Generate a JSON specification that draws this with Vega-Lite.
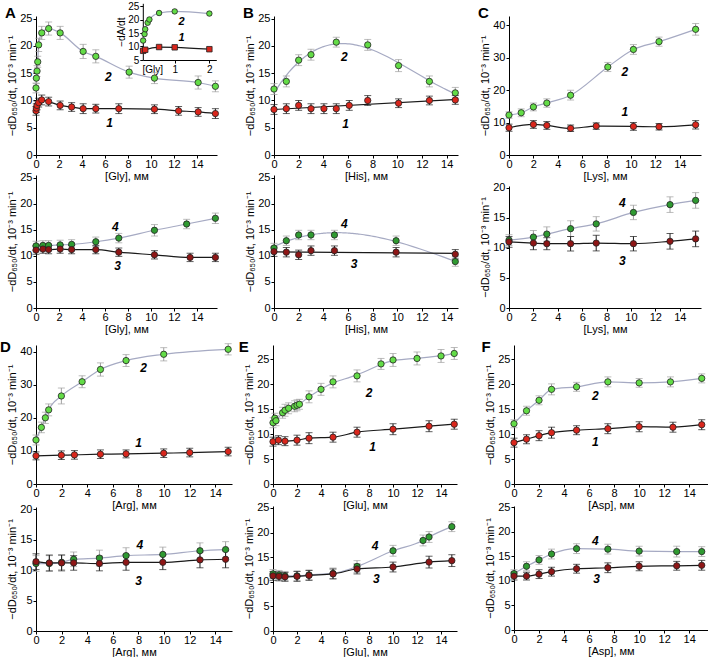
{
"$schema":"https://vega.github.io/schema/vega-lite/v6.json",
"background":"white",
"padding":{"left":0,"top":1,"right":0,"bottom":0},
"config":{"view":{"stroke":null},"font":"Liberation Sans",
"axis":{"grid":false,"domainColor":"#000","tickColor":"#000","labelColor":"#000","titleColor":"#000","labelFont":"Liberation Sans","titleFont":"Liberation Sans","labelFontSize":11,"titleFontSize":11,"titleFontWeight":"normal","tickSize":3,"labelPadding":1,"titlePadding":2,"labelFlush":false,"labelOverlap":false},
"axisX":{"titlePadding":1,"labelPadding":0},
"title":{"font":"Liberation Sans","fontSize":15,"fontWeight":"bold","color":"#000","orient":"left","anchor":"end","angle":0,"align":"right","baseline":"top","frame":"group"}},
"data":{"values":[
{"p":"Au","s":2,"x":0,"y":12.3,"e":0.9},{"p":"Au","s":2,"x":0.03,"y":14.1,"e":1.0},{"p":"Au","s":2,"x":0.09,"y":15.4,"e":1.0},{"p":"Au","s":2,"x":0.15,"y":17.1,"e":1.0},{"p":"Au","s":2,"x":0.23,"y":20.2,"e":1.2},{"p":"Au","s":2,"x":0.5,"y":22.4,"e":1.2},{"p":"Au","s":2,"x":1.1,"y":23.2,"e":1.2},{"p":"Au","s":2,"x":2.1,"y":22.4,"e":1.2},{"p":"Au","s":2,"x":4.1,"y":19.0,"e":1.3},{"p":"Au","s":2,"x":5.2,"y":18.1,"e":1.2},{"p":"Au","s":2,"x":8.1,"y":15.2,"e":1.1},{"p":"Au","s":2,"x":10.3,"y":14.1,"e":1.0},{"p":"Au","s":2,"x":14.1,"y":13.3,"e":1.2},{"p":"Au","s":2,"x":15.6,"y":12.6,"e":1.0},
{"p":"Au","s":1,"x":0,"y":8.1,"e":0.8},{"p":"Au","s":1,"x":0.03,"y":8.6,"e":0.8},{"p":"Au","s":1,"x":0.09,"y":9.1,"e":0.8},{"p":"Au","s":1,"x":0.23,"y":9.6,"e":0.8},{"p":"Au","s":1,"x":0.5,"y":10.1,"e":0.9},{"p":"Au","s":1,"x":1.1,"y":9.8,"e":0.8},{"p":"Au","s":1,"x":2.1,"y":9.1,"e":0.8},{"p":"Au","s":1,"x":3.1,"y":8.8,"e":0.8},{"p":"Au","s":1,"x":4.1,"y":8.5,"e":0.9},{"p":"Au","s":1,"x":5.2,"y":8.5,"e":0.8},{"p":"Au","s":1,"x":7.2,"y":8.5,"e":0.9},{"p":"Au","s":1,"x":10.3,"y":8.4,"e":0.8},{"p":"Au","s":1,"x":12.4,"y":8.1,"e":0.8},{"p":"Au","s":1,"x":14.1,"y":7.9,"e":0.8},{"p":"Au","s":1,"x":15.6,"y":7.6,"e":0.9},
{"p":"Au","t":"2","x":6.3,"y":14.4},{"p":"Au","t":"1","x":6.4,"y":5.8},
{"p":"Ai","s":2,"x":0.09,"y":12.2,"e":0.7},{"p":"Ai","s":2,"x":0.13,"y":14.6,"e":0.7},{"p":"Ai","s":2,"x":0.15,"y":16.4,"e":0.7},{"p":"Ai","s":2,"x":0.22,"y":18.8,"e":0.7},{"p":"Ai","s":2,"x":0.27,"y":20.0,"e":0.7},{"p":"Ai","s":2,"x":0.55,"y":22.4,"e":0.7},{"p":"Ai","s":2,"x":1.0,"y":23.0,"e":0.7},{"p":"Ai","s":2,"x":2.0,"y":22.2,"e":0.7},
{"p":"Ai","s":1,"x":0.09,"y":8.4,"e":0.6},{"p":"Ai","s":1,"x":0.15,"y":8.8,"e":0.6},{"p":"Ai","s":1,"x":0.55,"y":9.8,"e":0.6},{"p":"Ai","s":1,"x":1.0,"y":9.7,"e":0.6},{"p":"Ai","s":1,"x":2.0,"y":9.0,"e":0.6},
{"p":"Ai","t":"2","x":1.2,"y":19},{"p":"Ai","t":"1","x":1.2,"y":13},
{"p":"Al","s":4,"x":0,"y":11.9,"e":0.9},{"p":"Al","s":4,"x":0.6,"y":12.0,"e":0.9},{"p":"Al","s":4,"x":1.1,"y":12.0,"e":0.9},{"p":"Al","s":4,"x":2.1,"y":12.1,"e":0.9},{"p":"Al","s":4,"x":3.1,"y":12.2,"e":0.9},{"p":"Al","s":4,"x":5.2,"y":12.7,"e":0.9},{"p":"Al","s":4,"x":7.2,"y":13.4,"e":0.9},{"p":"Al","s":4,"x":10.3,"y":14.9,"e":1.1},{"p":"Al","s":4,"x":13.1,"y":16.1,"e":0.9},{"p":"Al","s":4,"x":15.6,"y":17.2,"e":1.0},
{"p":"Al","s":3,"x":0,"y":11.1,"e":0.8},{"p":"Al","s":3,"x":0.6,"y":11.3,"e":0.8},{"p":"Al","s":3,"x":1.1,"y":11.2,"e":0.8},{"p":"Al","s":3,"x":2.1,"y":11.3,"e":0.8},{"p":"Al","s":3,"x":3.1,"y":11.2,"e":0.8},{"p":"Al","s":3,"x":5.2,"y":11.2,"e":0.8},{"p":"Al","s":3,"x":7.2,"y":10.7,"e":0.8},{"p":"Al","s":3,"x":10.3,"y":10.2,"e":0.8},{"p":"Al","s":3,"x":13.4,"y":9.7,"e":0.8},{"p":"Al","s":3,"x":15.6,"y":9.7,"e":0.8},
{"p":"Al","t":"4","x":6.9,"y":15.5},{"p":"Al","t":"3","x":7.1,"y":8.0},
{"p":"Bu","s":2,"x":0,"y":12.1,"e":1.0},{"p":"Bu","s":2,"x":1,"y":13.5,"e":1.0},{"p":"Bu","s":2,"x":2,"y":17.4,"e":1.0},{"p":"Bu","s":2,"x":3,"y":18.4,"e":1.0},{"p":"Bu","s":2,"x":5.05,"y":20.7,"e":0.9},{"p":"Bu","s":2,"x":7.6,"y":20.2,"e":1.0},{"p":"Bu","s":2,"x":10.1,"y":16.4,"e":1.1},{"p":"Bu","s":2,"x":12.6,"y":13.5,"e":1.0},{"p":"Bu","s":2,"x":14.7,"y":11.4,"e":1.0},
{"p":"Bu","s":1,"x":0,"y":8.35,"e":0.9},{"p":"Bu","s":1,"x":1,"y":8.5,"e":0.9},{"p":"Bu","s":1,"x":2,"y":9.1,"e":0.9},{"p":"Bu","s":1,"x":3,"y":8.5,"e":0.9},{"p":"Bu","s":1,"x":4.05,"y":8.5,"e":0.9},{"p":"Bu","s":1,"x":5.05,"y":8.5,"e":0.9},{"p":"Bu","s":1,"x":6.1,"y":9.1,"e":0.9},{"p":"Bu","s":1,"x":7.6,"y":10.0,"e":0.9},{"p":"Bu","s":1,"x":10.1,"y":9.5,"e":0.8},{"p":"Bu","s":1,"x":12.6,"y":10.0,"e":0.8},{"p":"Bu","s":1,"x":14.7,"y":10.1,"e":0.8},
{"p":"Bu","t":"2","x":5.7,"y":17.9},{"p":"Bu","t":"1","x":5.8,"y":5.7},
{"p":"Bl","s":4,"x":0,"y":11.5,"e":0.9},{"p":"Bl","s":4,"x":1,"y":12.9,"e":0.9},{"p":"Bl","s":4,"x":2,"y":14.0,"e":0.9},{"p":"Bl","s":4,"x":3,"y":14.0,"e":0.9},{"p":"Bl","s":4,"x":4.9,"y":14.0,"e":0.9},{"p":"Bl","s":4,"x":9.9,"y":12.9,"e":0.9},{"p":"Bl","s":4,"x":14.7,"y":8.9,"e":0.9},
{"p":"Bl","s":3,"x":0,"y":10.8,"e":0.9},{"p":"Bl","s":3,"x":1,"y":10.7,"e":0.9},{"p":"Bl","s":3,"x":2,"y":10.2,"e":0.9},{"p":"Bl","s":3,"x":3,"y":11.0,"e":0.9},{"p":"Bl","s":3,"x":4.9,"y":11.0,"e":0.9},{"p":"Bl","s":3,"x":9.9,"y":10.7,"e":0.9},{"p":"Bl","s":3,"x":14.7,"y":10.3,"e":0.9},
{"p":"Bl","t":"4","x":5.7,"y":16.2},{"p":"Bl","t":"3","x":6.5,"y":8.4},
{"p":"Cu","s":2,"x":0,"y":12.3,"e":1.0},{"p":"Cu","s":2,"x":1,"y":13.0,"e":1.2},{"p":"Cu","s":2,"x":2,"y":14.8,"e":1.2},{"p":"Cu","s":2,"x":3.1,"y":16.0,"e":1.3},{"p":"Cu","s":2,"x":5.05,"y":18.4,"e":1.5},{"p":"Cu","s":2,"x":8.1,"y":27.1,"e":1.4},{"p":"Cu","s":2,"x":10.2,"y":32.5,"e":1.5},{"p":"Cu","s":2,"x":12.3,"y":34.9,"e":1.4},{"p":"Cu","s":2,"x":15.3,"y":38.7,"e":1.8},
{"p":"Cu","s":1,"x":0,"y":8.4,"e":1.1},{"p":"Cu","s":1,"x":2,"y":9.4,"e":1.2},{"p":"Cu","s":1,"x":3.1,"y":9.1,"e":1.2},{"p":"Cu","s":1,"x":5.05,"y":8.2,"e":1.0},{"p":"Cu","s":1,"x":7.15,"y":8.9,"e":1.0},{"p":"Cu","s":1,"x":10.2,"y":8.8,"e":1.2},{"p":"Cu","s":1,"x":12.3,"y":8.7,"e":1.0},{"p":"Cu","s":1,"x":15.3,"y":9.3,"e":1.3},
{"p":"Cu","t":"2","x":9.5,"y":25.6},{"p":"Cu","t":"1","x":9.5,"y":13.2},
{"p":"Cl","s":4,"x":0,"y":11.3,"e":0.9},{"p":"Cl","s":4,"x":2,"y":11.8,"e":1.1},{"p":"Cl","s":4,"x":3.1,"y":12.3,"e":1.2},{"p":"Cl","s":4,"x":5.05,"y":13.2,"e":1.3},{"p":"Cl","s":4,"x":7.15,"y":14.0,"e":1.2},{"p":"Cl","s":4,"x":10.2,"y":15.9,"e":1.2},{"p":"Cl","s":4,"x":13.2,"y":17.2,"e":1.3},{"p":"Cl","s":4,"x":15.3,"y":17.9,"e":1.3},
{"p":"Cl","s":3,"x":0,"y":11.0,"e":0.9},{"p":"Cl","s":3,"x":2,"y":10.8,"e":1.1},{"p":"Cl","s":3,"x":3.1,"y":10.7,"e":1.0},{"p":"Cl","s":3,"x":5.05,"y":10.7,"e":1.2},{"p":"Cl","s":3,"x":7.15,"y":10.8,"e":1.3},{"p":"Cl","s":3,"x":10.2,"y":10.7,"e":1.2},{"p":"Cl","s":3,"x":13.2,"y":11.1,"e":1.3},{"p":"Cl","s":3,"x":15.3,"y":11.5,"e":1.3},
{"p":"Cl","t":"4","x":9.3,"y":17.5},{"p":"Cl","t":"3","x":9.3,"y":7.9},
{"p":"Du","s":2,"x":0,"y":13.3,"e":1.5},{"p":"Du","s":2,"x":0.42,"y":17.1,"e":1.6},{"p":"Du","s":2,"x":0.73,"y":20.0,"e":1.7},{"p":"Du","s":2,"x":0.99,"y":22.4,"e":1.8},{"p":"Du","s":2,"x":1.98,"y":26.6,"e":2.4},{"p":"Du","s":2,"x":3.6,"y":30.9,"e":1.8},{"p":"Du","s":2,"x":5.03,"y":34.6,"e":2.0},{"p":"Du","s":2,"x":7.03,"y":37.3,"e":1.8},{"p":"Du","s":2,"x":9.97,"y":39.2,"e":2.0},{"p":"Du","s":2,"x":15.0,"y":40.7,"e":1.7},
{"p":"Du","s":1,"x":0,"y":8.5,"e":1.2},{"p":"Du","s":1,"x":1.98,"y":8.7,"e":1.3},{"p":"Du","s":1,"x":3.0,"y":8.8,"e":1.3},{"p":"Du","s":1,"x":5.03,"y":9.0,"e":1.3},{"p":"Du","s":1,"x":7.03,"y":9.1,"e":1.2},{"p":"Du","s":1,"x":9.97,"y":9.3,"e":1.3},{"p":"Du","s":1,"x":12,"y":9.5,"e":1.3},{"p":"Du","s":1,"x":15,"y":9.8,"e":1.3},
{"p":"Du","t":"2","x":8.4,"y":35.2},{"p":"Du","t":"1","x":8.0,"y":12.3},
{"p":"Dl","s":4,"x":0,"y":11.1,"e":1.3},{"p":"Dl","s":4,"x":1.04,"y":11.1,"e":1.3},{"p":"Dl","s":4,"x":2,"y":11.3,"e":1.2},{"p":"Dl","s":4,"x":2.94,"y":11.8,"e":1.2},{"p":"Dl","s":4,"x":4.95,"y":12.0,"e":1.3},{"p":"Dl","s":4,"x":7.03,"y":12.4,"e":1.3},{"p":"Dl","s":4,"x":9.9,"y":12.6,"e":1.2},{"p":"Dl","s":4,"x":12.8,"y":13.2,"e":1.3},{"p":"Dl","s":4,"x":14.8,"y":13.4,"e":1.3},
{"p":"Dl","s":3,"x":0,"y":11.4,"e":1.3},{"p":"Dl","s":3,"x":1.04,"y":11.2,"e":1.3},{"p":"Dl","s":3,"x":2,"y":11.2,"e":1.3},{"p":"Dl","s":3,"x":2.94,"y":11.2,"e":1.2},{"p":"Dl","s":3,"x":4.95,"y":11.1,"e":1.2},{"p":"Dl","s":3,"x":7.03,"y":11.3,"e":1.3},{"p":"Dl","s":3,"x":9.9,"y":11.3,"e":1.2},{"p":"Dl","s":3,"x":12.8,"y":11.7,"e":1.3},{"p":"Dl","s":3,"x":14.8,"y":11.8,"e":1.4},
{"p":"Dl","t":"4","x":8.1,"y":14.1},{"p":"Dl","t":"3","x":8.0,"y":8.2},
{"p":"Eu","s":2,"x":0,"y":12.3,"e":1.0},{"p":"Eu","s":2,"x":0.15,"y":13.2,"e":1.0},{"p":"Eu","s":2,"x":0.25,"y":12.7,"e":1.0},{"p":"Eu","s":2,"x":0.8,"y":14.3,"e":1.1},{"p":"Eu","s":2,"x":1.0,"y":14.8,"e":1.2},{"p":"Eu","s":2,"x":1.3,"y":15.2,"e":1.1},{"p":"Eu","s":2,"x":1.8,"y":15.6,"e":1.1},{"p":"Eu","s":2,"x":2.0,"y":15.8,"e":1.1},{"p":"Eu","s":2,"x":2.2,"y":16.0,"e":1.0},{"p":"Eu","s":2,"x":3,"y":17.5,"e":1.2},{"p":"Eu","s":2,"x":4,"y":19.0,"e":1.2},{"p":"Eu","s":2,"x":5,"y":20.5,"e":1.2},{"p":"Eu","s":2,"x":7,"y":21.7,"e":1.2},{"p":"Eu","s":2,"x":9,"y":24.1,"e":1.1},{"p":"Eu","s":2,"x":10,"y":24.9,"e":1.3},{"p":"Eu","s":2,"x":12,"y":25.2,"e":1.3},{"p":"Eu","s":2,"x":14,"y":25.7,"e":1.3},{"p":"Eu","s":2,"x":15.1,"y":26.2,"e":1.2},
{"p":"Eu","s":1,"x":0,"y":8.5,"e":0.9},{"p":"Eu","s":1,"x":0.45,"y":8.8,"e":0.9},{"p":"Eu","s":1,"x":1,"y":8.6,"e":0.9},{"p":"Eu","s":1,"x":2,"y":8.8,"e":1.0},{"p":"Eu","s":1,"x":3,"y":9.2,"e":1.1},{"p":"Eu","s":1,"x":5,"y":9.4,"e":1.0},{"p":"Eu","s":1,"x":7,"y":10.4,"e":1.0},{"p":"Eu","s":1,"x":10,"y":11.0,"e":1.1},{"p":"Eu","s":1,"x":13,"y":11.6,"e":1.1},{"p":"Eu","s":1,"x":15.1,"y":12.0,"e":1.0},
{"p":"Eu","t":"2","x":8,"y":18.2},{"p":"Eu","t":"1","x":8.3,"y":7.4},
{"p":"El","s":4,"x":0,"y":11.6,"e":0.9},{"p":"El","s":4,"x":0.5,"y":11.4,"e":0.9},{"p":"El","s":4,"x":1,"y":11.2,"e":0.9},{"p":"El","s":4,"x":2,"y":11.2,"e":1.0},{"p":"El","s":4,"x":3,"y":11.4,"e":1.0},{"p":"El","s":4,"x":5,"y":11.7,"e":1.1},{"p":"El","s":4,"x":7,"y":13.1,"e":1.2},{"p":"El","s":4,"x":10,"y":16.3,"e":1.1},{"p":"El","s":4,"x":12.5,"y":18.4,"e":1.1},{"p":"El","s":4,"x":13,"y":19.1,"e":1.1},{"p":"El","s":4,"x":14.9,"y":21.2,"e":1.0},
{"p":"El","s":3,"x":0,"y":11.2,"e":0.9},{"p":"El","s":3,"x":0.5,"y":11.1,"e":0.9},{"p":"El","s":3,"x":1,"y":11.0,"e":0.9},{"p":"El","s":3,"x":2,"y":11.1,"e":1.0},{"p":"El","s":3,"x":3,"y":11.3,"e":1.0},{"p":"El","s":3,"x":5,"y":11.6,"e":1.0},{"p":"El","s":3,"x":7,"y":12.6,"e":1.0},{"p":"El","s":3,"x":10,"y":13.0,"e":1.0},{"p":"El","s":3,"x":13,"y":14.0,"e":1.2},{"p":"El","s":3,"x":14.9,"y":14.3,"e":1.2},
{"p":"El","t":"4","x":8.5,"y":17.2},{"p":"El","t":"3","x":8.6,"y":10.6},
{"p":"Fu","s":2,"x":0,"y":12.1,"e":0.8},{"p":"Fu","s":2,"x":1,"y":14.7,"e":0.9},{"p":"Fu","s":2,"x":2,"y":16.8,"e":0.9},{"p":"Fu","s":2,"x":3,"y":19.0,"e":1.1},{"p":"Fu","s":2,"x":5,"y":19.5,"e":0.9},{"p":"Fu","s":2,"x":7.5,"y":20.5,"e":1.0},{"p":"Fu","s":2,"x":10,"y":20.3,"e":0.9},{"p":"Fu","s":2,"x":12.5,"y":20.5,"e":1.0},{"p":"Fu","s":2,"x":15,"y":21.2,"e":0.9},
{"p":"Fu","s":1,"x":0,"y":8.3,"e":0.9},{"p":"Fu","s":1,"x":1,"y":9.0,"e":0.9},{"p":"Fu","s":1,"x":2,"y":9.7,"e":1.0},{"p":"Fu","s":1,"x":3,"y":10.3,"e":1.1},{"p":"Fu","s":1,"x":5,"y":10.8,"e":0.9},{"p":"Fu","s":1,"x":7.5,"y":11.1,"e":1.0},{"p":"Fu","s":1,"x":10,"y":11.5,"e":1.0},{"p":"Fu","s":1,"x":12.7,"y":11.4,"e":1.0},{"p":"Fu","s":1,"x":15,"y":11.9,"e":1.0},
{"p":"Fu","t":"2","x":6.5,"y":17.7},{"p":"Fu","t":"1","x":6.5,"y":8.5},
{"p":"Fl","s":4,"x":0,"y":11.5,"e":0.8},{"p":"Fl","s":4,"x":1,"y":13.0,"e":0.9},{"p":"Fl","s":4,"x":2,"y":14.3,"e":0.9},{"p":"Fl","s":4,"x":3,"y":15.5,"e":1.0},{"p":"Fl","s":4,"x":5,"y":16.6,"e":1.0},{"p":"Fl","s":4,"x":7.5,"y":16.5,"e":1.0},{"p":"Fl","s":4,"x":10,"y":16.1,"e":1.0},{"p":"Fl","s":4,"x":13,"y":16.0,"e":1.1},{"p":"Fl","s":4,"x":15,"y":16.0,"e":1.0},
{"p":"Fl","s":3,"x":0,"y":11.0,"e":0.8},{"p":"Fl","s":3,"x":1,"y":11.0,"e":0.8},{"p":"Fl","s":3,"x":2,"y":11.4,"e":0.9},{"p":"Fl","s":3,"x":3,"y":11.9,"e":0.9},{"p":"Fl","s":3,"x":5,"y":12.5,"e":0.9},{"p":"Fl","s":3,"x":7.5,"y":12.7,"e":1.0},{"p":"Fl","s":3,"x":10,"y":13.0,"e":0.9},{"p":"Fl","s":3,"x":13,"y":13.1,"e":0.9},{"p":"Fl","s":3,"x":15,"y":13.2,"e":1.0},
{"p":"Fl","t":"4","x":6.5,"y":18.1},{"p":"Fl","t":"3","x":6.6,"y":10.5}
]},
"vconcat":[
{"hconcat":[
 {"hconcat":[
  {"title":{"text":"A","offset":-20,"dy":-10},"vconcat":[
   {"width":181,"height":139,
    "layer":[
     {"transform":[{"filter":"datum.p=='Au'"}],
      "encoding":{"x":{"field":"x","type":"quantitative","scale":{"domain":[0,15.74],"nice":false,"zero":false},"axis":{"values":[0,2,4,6,8,10,12,14],"title":"[Gly], мм"}},
                  "y":{"field":"y","type":"quantitative","scale":{"domain":[0,25.5],"nice":false},"axis":{"values":[0,5,10,15,20,25],"title":"−dD₆₅₀/dt, 10⁻³ min⁻¹"}}},
      "layer":[
       {"transform":[{"filter":"datum.s==2"}],"mark":{"type":"line","interpolate":"monotone","color":"#a6aac3","strokeWidth":1.2}},
       {"transform":[{"filter":"datum.s==1"}],"mark":{"type":"line","interpolate":"monotone","color":"#1a1a1a","strokeWidth":1.2}},
       {"transform":[{"filter":"datum.s==2"}],"mark":{"type":"errorbar","ticks":true,"color":"#a0a0a0","size":7},"encoding":{"yError":{"field":"e"}}},
       {"transform":[{"filter":"datum.s==1"}],"mark":{"type":"errorbar","ticks":true,"color":"#1a1a1a","size":7},"encoding":{"yError":{"field":"e"}}},
       {"transform":[{"filter":"datum.s>0"}],"mark":{"type":"circle","size":40,"stroke":"#222","strokeWidth":0.8,"opacity":1},"encoding":{"fill":{"field":"s","type":"nominal","scale":{"domain":[1,2,3,4],"range":["#d9261c","#63dc47","#8e1616","#2f9a31"]},"legend":null}}},
       {"transform":[{"filter":"isValid(datum.t)"}],"mark":{"type":"text","fontSize":12,"fontStyle":"italic","fontWeight":"bold"},"encoding":{"text":{"field":"t"}}}
      ]},
     {"transform":[{"filter":"datum.p=='Ai'"}],
      "encoding":{"x":{"field":"x","type":"quantitative","scale":{"domain":[0.08,2.2],"range":[106.8,180.3],"nice":false,"zero":false},"axis":{"orient":"bottom","offset":-95,"values":[1,2],"labelFontSize":10,"labelPadding":1,"title":"[Gly]","titleFontSize":10,"titleX":106,"titleY":4,"titleAlign":"left","titleBaseline":"top"}},
                  "y":{"field":"y","type":"quantitative","scale":{"domain":[5,26],"range":[44,-12.7],"nice":false,"zero":false},"axis":{"orient":"left","offset":-106.8,"values":[5,10,15,20,25],"labelFontSize":10,"title":"−dA/dt","titleFontSize":10,"titlePadding":1}}},
      "layer":[
       {"transform":[{"filter":"datum.s==2"}],"mark":{"type":"line","interpolate":"monotone","color":"#a6aac3","strokeWidth":1.2}},
       {"transform":[{"filter":"datum.s==1"}],"mark":{"type":"line","interpolate":"monotone","color":"#1a1a1a","strokeWidth":1.2}},
       {"transform":[{"filter":"datum.s==2"}],"mark":{"type":"errorbar","ticks":true,"color":"#a0a0a0","size":5},"encoding":{"yError":{"field":"e"}}},
       {"transform":[{"filter":"datum.s==1"}],"mark":{"type":"errorbar","ticks":true,"color":"#1a1a1a","size":5},"encoding":{"yError":{"field":"e"}}},
       {"transform":[{"filter":"datum.s>0"}],"mark":{"type":"point","filled":true,"size":30,"stroke":"#222","strokeWidth":0.8,"opacity":1},"encoding":{"fill":{"field":"s","type":"nominal","legend":null},"shape":{"field":"s","type":"nominal","scale":{"domain":[1,2],"range":["square","circle"]},"legend":null}}},
       {"transform":[{"filter":"isValid(datum.t)"}],"mark":{"type":"text","fontSize":11,"fontStyle":"italic","fontWeight":"bold"},"encoding":{"text":{"field":"t"}}}
      ]}
    ],
    "resolve":{"scale":{"x":"independent","y":"independent"},"axis":{"x":"independent","y":"independent"}}},
   {"width":181,"height":133,"transform":[{"filter":"datum.p=='Al'"}],
    "encoding":{"x":{"field":"x","type":"quantitative","scale":{"domain":[0,15.74],"nice":false,"zero":false},"axis":{"values":[0,2,4,6,8,10,12,14],"title":"[Gly], мм"}},
                "y":{"field":"y","type":"quantitative","scale":{"domain":[0,25.5],"nice":false},"axis":{"values":[0,5,10,15,20,25],"title":"−dD₆₅₀/dt, 10⁻³ min⁻¹"}}},
    "layer":[
     {"transform":[{"filter":"datum.s==4"}],"mark":{"type":"line","interpolate":"monotone","color":"#a6aac3","strokeWidth":1.2}},
     {"transform":[{"filter":"datum.s==3"}],"mark":{"type":"line","interpolate":"monotone","color":"#1a1a1a","strokeWidth":1.2}},
     {"transform":[{"filter":"datum.s==4"}],"mark":{"type":"errorbar","ticks":true,"color":"#a0a0a0","size":7},"encoding":{"yError":{"field":"e"}}},
     {"transform":[{"filter":"datum.s==3"}],"mark":{"type":"errorbar","ticks":true,"color":"#1a1a1a","size":7},"encoding":{"yError":{"field":"e"}}},
     {"transform":[{"filter":"datum.s>0"}],"mark":{"type":"circle","size":40,"stroke":"#222","strokeWidth":0.8,"opacity":1},"encoding":{"fill":{"field":"s","type":"nominal","scale":{"domain":[1,2,3,4],"range":["#d9261c","#63dc47","#8e1616","#2f9a31"]},"legend":null}}},
     {"transform":[{"filter":"isValid(datum.t)"}],"mark":{"type":"text","fontSize":12,"fontStyle":"italic","fontWeight":"bold"},"encoding":{"text":{"field":"t"}}}
    ]}
  ],"spacing":20,"bounds":"flush"},
  {"title":{"text":"B","offset":-20,"dy":-10},"vconcat":[
   {"width":184,"height":139,"transform":[{"filter":"datum.p=='Bu'"}],
    "encoding":{"x":{"field":"x","type":"quantitative","scale":{"domain":[0,14.92],"nice":false,"zero":false},"axis":{"values":[0,2,4,6,8,10,12,14],"title":"[His], мм"}},
                "y":{"field":"y","type":"quantitative","scale":{"domain":[0,25.5],"nice":false},"axis":{"values":[0,5,10,15,20,25],"title":"−dD₆₅₀/dt, 10⁻³ min⁻¹"}}},
    "layer":[
     {"transform":[{"filter":"datum.s==2"},{"regression":"y","on":"x","method":"poly","order":3,"extent":[0,14.9]}],"mark":{"type":"line","color":"#a6aac3","strokeWidth":1.2}},
     {"transform":[{"filter":"datum.s==1"},{"regression":"y","on":"x","method":"linear","extent":[0,14.9]}],"mark":{"type":"line","color":"#1a1a1a","strokeWidth":1.2}},
     {"transform":[{"filter":"datum.s==2"}],"mark":{"type":"errorbar","ticks":true,"color":"#a0a0a0","size":7},"encoding":{"yError":{"field":"e"}}},
     {"transform":[{"filter":"datum.s==1"}],"mark":{"type":"errorbar","ticks":true,"color":"#1a1a1a","size":7},"encoding":{"yError":{"field":"e"}}},
     {"transform":[{"filter":"datum.s>0"}],"mark":{"type":"circle","size":40,"stroke":"#222","strokeWidth":0.8,"opacity":1},"encoding":{"fill":{"field":"s","type":"nominal","scale":{"domain":[1,2,3,4],"range":["#d9261c","#63dc47","#8e1616","#2f9a31"]},"legend":null}}},
     {"transform":[{"filter":"isValid(datum.t)"}],"mark":{"type":"text","fontSize":12,"fontStyle":"italic","fontWeight":"bold"},"encoding":{"text":{"field":"t"}}}
    ]},
   {"width":184,"height":133,"transform":[{"filter":"datum.p=='Bl'"}],
    "encoding":{"x":{"field":"x","type":"quantitative","scale":{"domain":[0,14.92],"nice":false,"zero":false},"axis":{"values":[0,2,4,6,8,10,12,14],"title":"[His], мм"}},
                "y":{"field":"y","type":"quantitative","scale":{"domain":[0,25.5],"nice":false},"axis":{"values":[0,5,10,15,20,25],"title":"−dD₆₅₀/dt, 10⁻³ min⁻¹"}}},
    "layer":[
     {"transform":[{"filter":"datum.s==4"},{"regression":"y","on":"x","method":"poly","order":3,"extent":[0,14.9]}],"mark":{"type":"line","color":"#a6aac3","strokeWidth":1.2}},
     {"transform":[{"filter":"datum.s==3"},{"regression":"y","on":"x","method":"linear","extent":[0,14.9]}],"mark":{"type":"line","color":"#1a1a1a","strokeWidth":1.2}},
     {"transform":[{"filter":"datum.s==4"}],"mark":{"type":"errorbar","ticks":true,"color":"#a0a0a0","size":7},"encoding":{"yError":{"field":"e"}}},
     {"transform":[{"filter":"datum.s==3"}],"mark":{"type":"errorbar","ticks":true,"color":"#1a1a1a","size":7},"encoding":{"yError":{"field":"e"}}},
     {"transform":[{"filter":"datum.s>0"}],"mark":{"type":"circle","size":40,"stroke":"#222","strokeWidth":0.8,"opacity":1},"encoding":{"fill":{"field":"s","type":"nominal","scale":{"domain":[1,2,3,4],"range":["#d9261c","#63dc47","#8e1616","#2f9a31"]},"legend":null}}},
     {"transform":[{"filter":"isValid(datum.t)"}],"mark":{"type":"text","fontSize":12,"fontStyle":"italic","fontWeight":"bold"},"encoding":{"text":{"field":"t"}}}
    ]}
  ],"spacing":20,"bounds":"flush"}
 ],"spacing":22},
 {"title":{"text":"C","offset":-20,"dy":-10},"vconcat":[
   {"width":192,"height":139,"transform":[{"filter":"datum.p=='Cu'"}],
    "encoding":{"x":{"field":"x","type":"quantitative","scale":{"domain":[0,15.74],"nice":false,"zero":false},"axis":{"values":[0,2,4,6,8,10,12,14],"title":"[Lys], мм"}},
                "y":{"field":"y","type":"quantitative","scale":{"domain":[0,42.8],"nice":false},"axis":{"values":[0,10,20,30,40],"title":"−dD₆₅₀/dt, 10⁻³ min⁻¹"}}},
    "layer":[
     {"transform":[{"filter":"datum.s==2"}],"mark":{"type":"line","interpolate":"monotone","color":"#a6aac3","strokeWidth":1.2}},
     {"transform":[{"filter":"datum.s==1"}],"mark":{"type":"line","interpolate":"monotone","color":"#1a1a1a","strokeWidth":1.2}},
     {"transform":[{"filter":"datum.s==2"}],"mark":{"type":"errorbar","ticks":true,"color":"#a0a0a0","size":7},"encoding":{"yError":{"field":"e"}}},
     {"transform":[{"filter":"datum.s==1"}],"mark":{"type":"errorbar","ticks":true,"color":"#1a1a1a","size":7},"encoding":{"yError":{"field":"e"}}},
     {"transform":[{"filter":"datum.s>0"}],"mark":{"type":"circle","size":40,"stroke":"#222","strokeWidth":0.8,"opacity":1},"encoding":{"fill":{"field":"s","type":"nominal","scale":{"domain":[1,2,3,4],"range":["#d9261c","#63dc47","#8e1616","#2f9a31"]},"legend":null}}},
     {"transform":[{"filter":"isValid(datum.t)"}],"mark":{"type":"text","fontSize":12,"fontStyle":"italic","fontWeight":"bold"},"encoding":{"text":{"field":"t"}}}
    ]},
   {"width":192,"height":122,"transform":[{"filter":"datum.p=='Cl'"}],
    "encoding":{"x":{"field":"x","type":"quantitative","scale":{"domain":[0,15.74],"nice":false,"zero":false},"axis":{"values":[0,2,4,6,8,10,12,14],"title":"[Lys], мм"}},
                "y":{"field":"y","type":"quantitative","scale":{"domain":[0,20.3],"nice":false},"axis":{"values":[0,5,10,15,20],"title":"−dD₆₅₀/dt, 10⁻³ min⁻¹"}}},
    "layer":[
     {"transform":[{"filter":"datum.s==4"}],"mark":{"type":"line","interpolate":"monotone","color":"#a6aac3","strokeWidth":1.2}},
     {"transform":[{"filter":"datum.s==3"}],"mark":{"type":"line","interpolate":"monotone","color":"#1a1a1a","strokeWidth":1.2}},
     {"transform":[{"filter":"datum.s==4"}],"mark":{"type":"errorbar","ticks":true,"color":"#a0a0a0","size":7},"encoding":{"yError":{"field":"e"}}},
     {"transform":[{"filter":"datum.s==3"}],"mark":{"type":"errorbar","ticks":true,"color":"#1a1a1a","size":7},"encoding":{"yError":{"field":"e"}}},
     {"transform":[{"filter":"datum.s>0"}],"mark":{"type":"circle","size":40,"stroke":"#222","strokeWidth":0.8,"opacity":1},"encoding":{"fill":{"field":"s","type":"nominal","scale":{"domain":[1,2,3,4],"range":["#d9261c","#63dc47","#8e1616","#2f9a31"]},"legend":null}}},
     {"transform":[{"filter":"isValid(datum.t)"}],"mark":{"type":"text","fontSize":12,"fontStyle":"italic","fontWeight":"bold"},"encoding":{"text":{"field":"t"}}}
    ]}
 ],"spacing":31,"bounds":"flush"}
],"spacing":17},
{"hconcat":[
 {"hconcat":[
  {"title":{"text":"D","offset":-15,"dy":-5},"vconcat":[
   {"width":196,"height":139,"transform":[{"filter":"datum.p=='Du'"}],
    "encoding":{"x":{"field":"x","type":"quantitative","scale":{"domain":[0,15.3],"nice":false,"zero":false},"axis":{"values":[0,2,4,6,8,10,12,14],"title":"[Arg], мм"}},
                "y":{"field":"y","type":"quantitative","scale":{"domain":[0,42],"nice":false},"axis":{"values":[0,10,20,30,40],"title":"−dD₆₅₀/dt, 10⁻³ min⁻¹"}}},
    "layer":[
     {"transform":[{"filter":"datum.s==2"}],"mark":{"type":"line","interpolate":"monotone","color":"#a6aac3","strokeWidth":1.2}},
     {"transform":[{"filter":"datum.s==1"}],"mark":{"type":"line","interpolate":"monotone","color":"#1a1a1a","strokeWidth":1.2}},
     {"transform":[{"filter":"datum.s==2"}],"mark":{"type":"errorbar","ticks":true,"color":"#a0a0a0","size":7},"encoding":{"yError":{"field":"e"}}},
     {"transform":[{"filter":"datum.s==1"}],"mark":{"type":"errorbar","ticks":true,"color":"#1a1a1a","size":7},"encoding":{"yError":{"field":"e"}}},
     {"transform":[{"filter":"datum.s>0"}],"mark":{"type":"circle","size":40,"stroke":"#222","strokeWidth":0.8,"opacity":1},"encoding":{"fill":{"field":"s","type":"nominal","scale":{"domain":[1,2,3,4],"range":["#d9261c","#63dc47","#8e1616","#2f9a31"]},"legend":null}}},
     {"transform":[{"filter":"isValid(datum.t)"}],"mark":{"type":"text","fontSize":12,"fontStyle":"italic","fontWeight":"bold"},"encoding":{"text":{"field":"t"}}}
    ]},
   {"width":196,"height":124,"transform":[{"filter":"datum.p=='Dl'"}],
    "encoding":{"x":{"field":"x","type":"quantitative","scale":{"domain":[0,15.3],"nice":false,"zero":false},"axis":{"values":[0,2,4,6,8,10,12,14],"title":"[Arg], мм"}},
                "y":{"field":"y","type":"quantitative","scale":{"domain":[0,20.4],"nice":false},"axis":{"values":[0,5,10,15,20],"title":"−dD₆₅₀/dt, 10⁻³ min⁻¹"}}},
    "layer":[
     {"transform":[{"filter":"datum.s==4"}],"mark":{"type":"line","interpolate":"monotone","color":"#a6aac3","strokeWidth":1.2}},
     {"transform":[{"filter":"datum.s==3"}],"mark":{"type":"line","interpolate":"monotone","color":"#1a1a1a","strokeWidth":1.2}},
     {"transform":[{"filter":"datum.s==4"}],"mark":{"type":"errorbar","ticks":true,"color":"#a0a0a0","size":7},"encoding":{"yError":{"field":"e"}}},
     {"transform":[{"filter":"datum.s==3"}],"mark":{"type":"errorbar","ticks":true,"color":"#1a1a1a","size":7},"encoding":{"yError":{"field":"e"}}},
     {"transform":[{"filter":"datum.s>0"}],"mark":{"type":"circle","size":40,"stroke":"#222","strokeWidth":0.8,"opacity":1},"encoding":{"fill":{"field":"s","type":"nominal","scale":{"domain":[1,2,3,4],"range":["#d9261c","#63dc47","#8e1616","#2f9a31"]},"legend":null}}},
     {"transform":[{"filter":"isValid(datum.t)"}],"mark":{"type":"text","fontSize":12,"fontStyle":"italic","fontWeight":"bold"},"encoding":{"text":{"field":"t"}}}
    ]}
  ],"spacing":23,"bounds":"flush"},
  {"title":{"text":"E","offset":-15,"dy":-5},"vconcat":[
   {"width":184,"height":139,"transform":[{"filter":"datum.p=='Eu'"}],
    "encoding":{"x":{"field":"x","type":"quantitative","scale":{"domain":[0,15.33],"nice":false,"zero":false},"axis":{"values":[0,2,4,6,8,10,12,14],"title":"[Glu], мм"}},
                "y":{"field":"y","type":"quantitative","scale":{"domain":[0,27.9],"nice":false},"axis":{"values":[0,5,10,15,20,25],"title":"−dD₆₅₀/dt, 10⁻³ min⁻¹"}}},
    "layer":[
     {"transform":[{"filter":"datum.s==2"}],"mark":{"type":"line","interpolate":"basis","color":"#a6aac3","strokeWidth":1.2}},
     {"transform":[{"filter":"datum.s==1"}],"mark":{"type":"line","interpolate":"monotone","color":"#1a1a1a","strokeWidth":1.2}},
     {"transform":[{"filter":"datum.s==2"}],"mark":{"type":"errorbar","ticks":true,"color":"#a0a0a0","size":7},"encoding":{"yError":{"field":"e"}}},
     {"transform":[{"filter":"datum.s==1"}],"mark":{"type":"errorbar","ticks":true,"color":"#1a1a1a","size":7},"encoding":{"yError":{"field":"e"}}},
     {"transform":[{"filter":"datum.s>0"}],"mark":{"type":"circle","size":40,"stroke":"#222","strokeWidth":0.8,"opacity":1},"encoding":{"fill":{"field":"s","type":"nominal","scale":{"domain":[1,2,3,4],"range":["#d9261c","#63dc47","#8e1616","#2f9a31"]},"legend":null}}},
     {"transform":[{"filter":"isValid(datum.t)"}],"mark":{"type":"text","fontSize":12,"fontStyle":"italic","fontWeight":"bold"},"encoding":{"text":{"field":"t"}}}
    ]},
   {"width":184,"height":125,"transform":[{"filter":"datum.p=='El'"}],
    "encoding":{"x":{"field":"x","type":"quantitative","scale":{"domain":[0,15.33],"nice":false,"zero":false},"axis":{"values":[0,2,4,6,8,10,12,14],"title":"[Glu], мм"}},
                "y":{"field":"y","type":"quantitative","scale":{"domain":[0,25.4],"nice":false},"axis":{"values":[0,5,10,15,20,25],"title":"−dD₆₅₀/dt, 10⁻³ min⁻¹"}}},
    "layer":[
     {"transform":[{"filter":"datum.s==4"}],"mark":{"type":"line","interpolate":"monotone","color":"#a6aac3","strokeWidth":1.2}},
     {"transform":[{"filter":"datum.s==3"}],"mark":{"type":"line","interpolate":"monotone","color":"#1a1a1a","strokeWidth":1.2}},
     {"transform":[{"filter":"datum.s==4"}],"mark":{"type":"errorbar","ticks":true,"color":"#a0a0a0","size":7},"encoding":{"yError":{"field":"e"}}},
     {"transform":[{"filter":"datum.s==3"}],"mark":{"type":"errorbar","ticks":true,"color":"#1a1a1a","size":7},"encoding":{"yError":{"field":"e"}}},
     {"transform":[{"filter":"datum.s>0"}],"mark":{"type":"circle","size":40,"stroke":"#222","strokeWidth":0.8,"opacity":1},"encoding":{"fill":{"field":"s","type":"nominal","scale":{"domain":[1,2,3,4],"range":["#d9261c","#63dc47","#8e1616","#2f9a31"]},"legend":null}}},
     {"transform":[{"filter":"isValid(datum.t)"}],"mark":{"type":"text","fontSize":12,"fontStyle":"italic","fontWeight":"bold"},"encoding":{"text":{"field":"t"}}}
    ]}
  ],"spacing":22,"bounds":"flush"}
 ],"spacing":5},
 {"title":{"text":"F","offset":-15,"dy":-5},"vconcat":[
   {"width":194,"height":139,"transform":[{"filter":"datum.p=='Fu'"}],
    "encoding":{"x":{"field":"x","type":"quantitative","scale":{"domain":[0,15.5],"nice":false,"zero":false},"axis":{"values":[0,2,4,6,8,10,12,14],"title":"[Asp], мм"}},
                "y":{"field":"y","type":"quantitative","scale":{"domain":[0,27.9],"nice":false},"axis":{"values":[0,5,10,15,20,25],"title":"−dD₆₅₀/dt, 10⁻³ min⁻¹"}}},
    "layer":[
     {"transform":[{"filter":"datum.s==2"}],"mark":{"type":"line","interpolate":"monotone","color":"#a6aac3","strokeWidth":1.2}},
     {"transform":[{"filter":"datum.s==1"}],"mark":{"type":"line","interpolate":"monotone","color":"#1a1a1a","strokeWidth":1.2}},
     {"transform":[{"filter":"datum.s==2"}],"mark":{"type":"errorbar","ticks":true,"color":"#a0a0a0","size":7},"encoding":{"yError":{"field":"e"}}},
     {"transform":[{"filter":"datum.s==1"}],"mark":{"type":"errorbar","ticks":true,"color":"#1a1a1a","size":7},"encoding":{"yError":{"field":"e"}}},
     {"transform":[{"filter":"datum.s>0"}],"mark":{"type":"circle","size":40,"stroke":"#222","strokeWidth":0.8,"opacity":1},"encoding":{"fill":{"field":"s","type":"nominal","scale":{"domain":[1,2,3,4],"range":["#d9261c","#63dc47","#8e1616","#2f9a31"]},"legend":null}}},
     {"transform":[{"filter":"isValid(datum.t)"}],"mark":{"type":"text","fontSize":12,"fontStyle":"italic","fontWeight":"bold"},"encoding":{"text":{"field":"t"}}}
    ]},
   {"width":194,"height":124,"transform":[{"filter":"datum.p=='Fl'"}],
    "encoding":{"x":{"field":"x","type":"quantitative","scale":{"domain":[0,15.5],"nice":false,"zero":false},"axis":{"values":[0,2,4,6,8,10,12,14],"title":"[Asp], мм"}},
                "y":{"field":"y","type":"quantitative","scale":{"domain":[0,25.3],"nice":false},"axis":{"values":[0,5,10,15,20,25],"title":"−dD₆₅₀/dt, 10⁻³ min⁻¹"}}},
    "layer":[
     {"transform":[{"filter":"datum.s==4"}],"mark":{"type":"line","interpolate":"monotone","color":"#a6aac3","strokeWidth":1.2}},
     {"transform":[{"filter":"datum.s==3"}],"mark":{"type":"line","interpolate":"monotone","color":"#1a1a1a","strokeWidth":1.2}},
     {"transform":[{"filter":"datum.s==4"}],"mark":{"type":"errorbar","ticks":true,"color":"#a0a0a0","size":7},"encoding":{"yError":{"field":"e"}}},
     {"transform":[{"filter":"datum.s==3"}],"mark":{"type":"errorbar","ticks":true,"color":"#1a1a1a","size":7},"encoding":{"yError":{"field":"e"}}},
     {"transform":[{"filter":"datum.s>0"}],"mark":{"type":"circle","size":40,"stroke":"#222","strokeWidth":0.8,"opacity":1},"encoding":{"fill":{"field":"s","type":"nominal","scale":{"domain":[1,2,3,4],"range":["#d9261c","#63dc47","#8e1616","#2f9a31"]},"legend":null}}},
     {"transform":[{"filter":"isValid(datum.t)"}],"mark":{"type":"text","fontSize":12,"fontStyle":"italic","fontWeight":"bold"},"encoding":{"text":{"field":"t"}}}
    ]}
 ],"spacing":22,"bounds":"flush"}
],"spacing":21}
],"spacing":6}
